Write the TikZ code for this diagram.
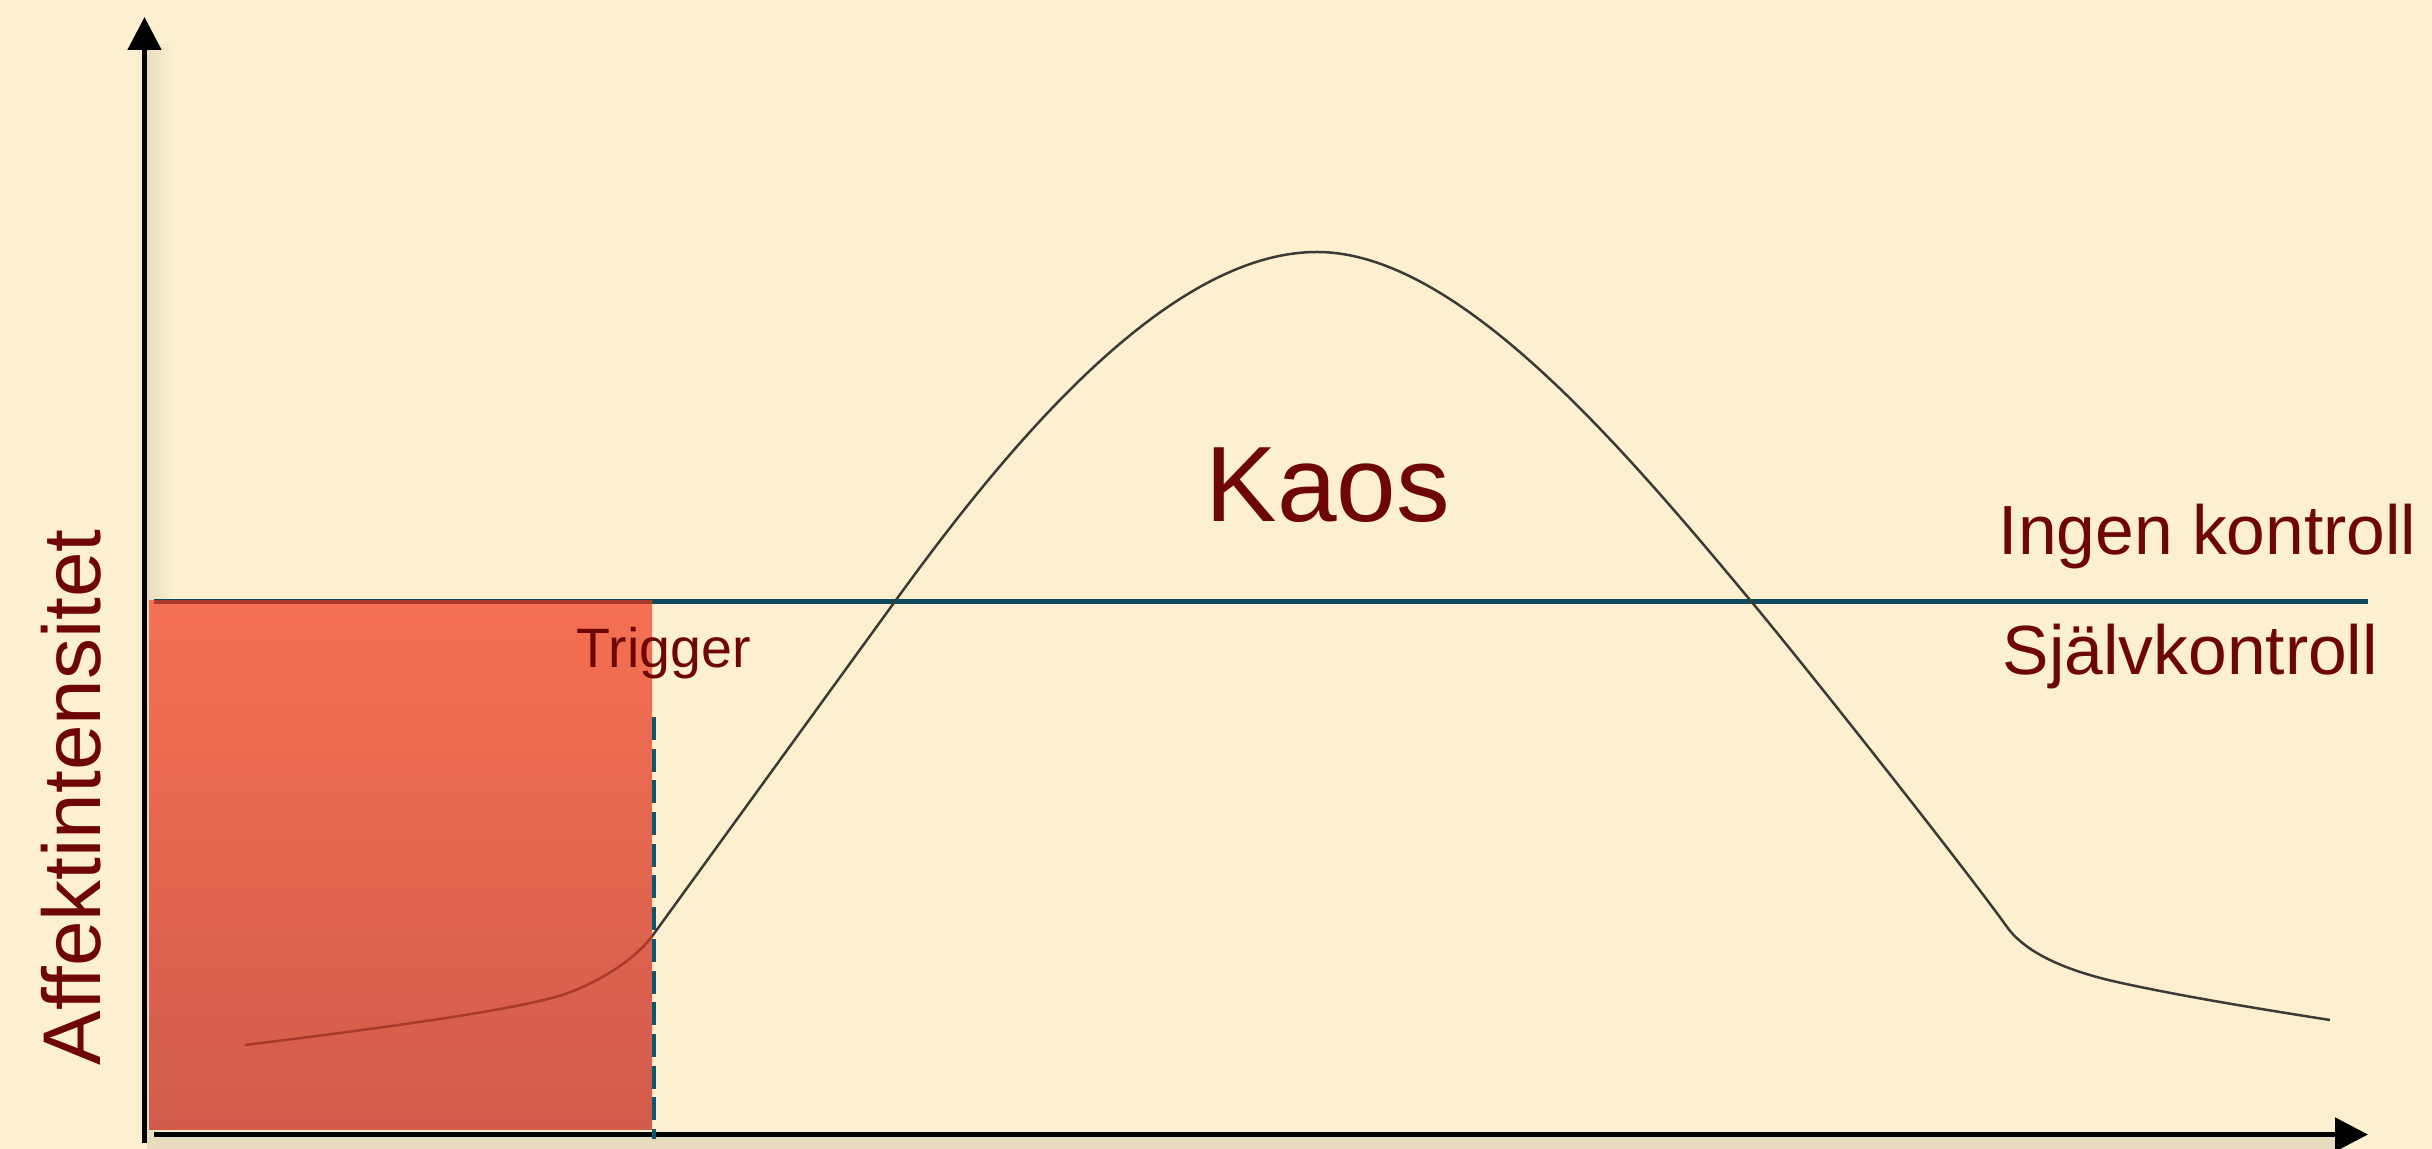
\documentclass[tikz,border=0pt]{standalone}
\usepackage{fontspec}
\setmainfont{Liberation Sans}
\usetikzlibrary{arrows.meta}
\definecolor{bg}{HTML}{FDF0D1}
\definecolor{txt}{HTML}{6E0606}
\definecolor{tealline}{HTML}{0B4A5E}
\definecolor{tealdash}{HTML}{0E5670}
\definecolor{redtop}{HTML}{F57052}
\definecolor{redbot}{HTML}{D15B4B}
\definecolor{curvecol}{HTML}{3A3A36}
\definecolor{curvein}{HTML}{A83A2C}
\definecolor{shadowc}{HTML}{E8DCC0}
\begin{document}
\begin{tikzpicture}[x=0.1mm,y=-0.1mm,
  lbl/.style={text=txt, inner sep=0pt, anchor=base west},
  axisline/.style={line width=0.5mm, draw=black, -{Triangle[length=3.3mm,width=3.3mm]}},
  curveline/.style={line width=0.25mm, draw=curvecol},
]
\fill[bg] (0,0) rectangle (2432,1149);
\useasboundingbox (0,0) rectangle (2432,1149);
% soft shadows of the axes
\shade[left color=shadowc, right color=bg] (147,45) rectangle (172,1137);
\fill[shadowc] (147,1137) rectangle (2340,1149);
% threshold line
\coordinate (thL) at (154,602);
\coordinate (thR) at (2368,602);
\draw[tealline, line width=0.5mm] (thL) -- (thR);
% curve
\coordinate (c0) at (245,1045);
\coordinate (c1) at (559,996);
\coordinate (c2) at (653,935);
\coordinate (c3) at (896,600);
\coordinate (c4) at (1317,252);
\coordinate (c5) at (1750,600);
\coordinate (c6) at (2007,927);
\coordinate (c7) at (2117,982);
\coordinate (c8) at (2330,1020);
\draw[curveline] (c0) .. controls (350,1032) and (500,1013) .. (c1)
  .. controls (589,987) and (633,963) .. (c2) -- (c3)
  .. controls (1006,448) and (1167,252) .. (c4)
  .. controls (1457,252) and (1620,444) .. (c5)
  .. controls (1810,672) and (1967,871) .. (c6)
  .. controls (2027,955) and (2072,972) .. (c7)
  .. controls (2180,996) and (2260,1009) .. (c8);
% red area
\coordinate (rA) at (149,601);
\coordinate (rB) at (652,1129);
\shade[top color=redtop, bottom color=redbot] (rA) rectangle (rB);
\begin{scope}
\clip (rA) rectangle (rB);
\draw[curvein, line width=0.5mm] (thL) -- (thR);
\draw[curveline, draw=curvein] (c0) .. controls (350,1032) and (500,1013) .. (c1)
  .. controls (589,987) and (633,963) .. (c2) -- (c3);
\end{scope}
% axes
\coordinate (yO) at (144.5,1143);
\coordinate (yT) at (144.5,17);
\coordinate (xO) at (154,1134.5);
\coordinate (xT) at (2368,1134.5);
\draw[axisline] (yO) -- (yT);
\draw[axisline] (xO) -- (xT);
% trigger dashed line
\coordinate (dT) at (654,717);
\coordinate (dB) at (654,1139);
\draw[tealdash, line width=0.35mm, dash pattern=on 2.3mm off 0.87mm] (dT) -- (dB);
% labels
\node[lbl, font=\fontsize{19.8pt}{24pt}\selectfont] (ingen) at (1998,555) {Ingen kontroll};
\node[lbl, font=\fontsize{19.8pt}{24pt}\selectfont] (sjalv) at (2002,675) {Självkontroll};
\node[lbl, font=\fontsize{30.5pt}{36pt}\selectfont] (kaos) at (1205,522) {Kaos};
\node[lbl, font=\fontsize{15.8pt}{19pt}\selectfont] (trig) at (576,668) {Trigger};
\node[lbl, rotate=90, font=\fontsize{23.3pt}{28pt}\selectfont] (aff) at (100,1066) {Affektintensitet};
\end{tikzpicture}
\end{document}
